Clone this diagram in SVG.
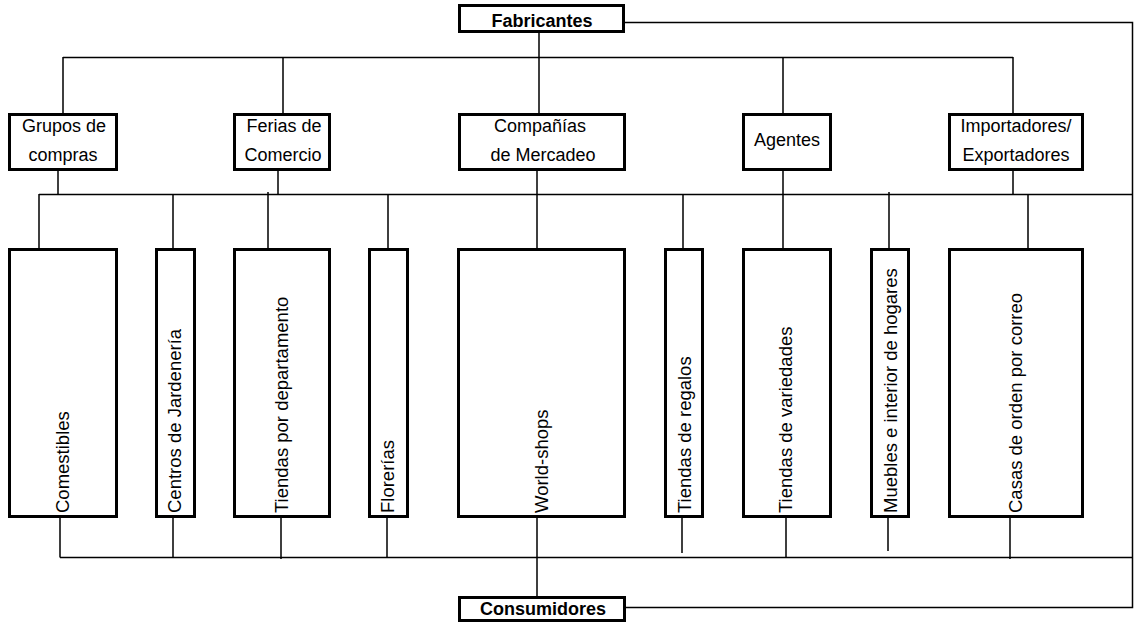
<svg xmlns="http://www.w3.org/2000/svg" width="1134" height="622" viewBox="0 0 1134 622">
<style>
.box{fill:#fff;stroke:#000;stroke-width:3}
.ln{fill:none;stroke:#000;stroke-width:1.5}
text{font-family:"Liberation Sans",Arial,sans-serif;font-size:18px;fill:#000}
.v{font-size:18.5px}
.b{font-weight:bold}
.c{text-anchor:middle}
</style>
<rect width="1134" height="622" fill="#fff"/>
<g id="connectors">
<path class="ln" d="M625 22.5H1132.5V607.5H626"/>
<path class="ln" d="M539 33V57.5M63 57.5H1013M63 57V113M283 57V113M539 57V113M783 57V113M1013 57V113"/>
<path class="ln" d="M58 170V194.5M278 170V194.5M537 170V194.5M783 170V194.5M1013 170V194.5M39 194.5H1133"/>
<path class="ln" d="M39 194V248M173 194V248M268 192V248M388 194V248M537 194V248M683 194V248M783 194V248M889 192V248M1028 194V248"/>
<path class="ln" d="M60 518V557.5M173 518V557.5M281 518V559M387 518V557.5M537 518V596M682 518V553M786 518V557.5M888 518V551M1010 518V559M60 557.5H1133"/>
</g>
<g id="fabricantes"><rect class="box" x="459.5" y="5.5" width="164" height="26"/><text class="b c" x="542" y="27">Fabricantes</text></g>
<g id="grupos"><rect class="box" x="9.5" y="114.5" width="107" height="55"/><text class="c" x="64" y="132">Grupos de</text><text class="c" x="63" y="161">compras</text></g>
<g id="ferias"><rect class="box" x="234.5" y="114.5" width="95" height="55"/><text class="c" x="284" y="132">Ferias de</text><text class="c" x="283" y="161">Comercio</text></g>
<g id="companias"><rect class="box" x="459.5" y="114.5" width="165" height="55"/><text class="c" x="540" y="132">Compañías</text><text class="c" x="543" y="161">de Mercadeo</text></g>
<g id="agentes"><rect class="box" x="743.5" y="114.5" width="87" height="55"/><text class="c" x="787" y="146">Agentes</text></g>
<g id="importadores"><rect class="box" x="949.5" y="114.5" width="133" height="55"/><text class="c" x="1016" y="132">Importadores/</text><text class="c" x="1016" y="161">Exportadores</text></g>
<g id="comestibles"><rect class="box" x="9.5" y="249.5" width="107" height="267"/><text class="v" transform="translate(69 513) rotate(-90)">Comestibles</text></g>
<g id="centros"><rect class="box" x="156.5" y="249.5" width="38" height="267"/><text class="v" transform="translate(181 513) rotate(-90)">Centros de Jardenería</text></g>
<g id="tiendas-dep"><rect class="box" x="234.5" y="249.5" width="95" height="267"/><text class="v" transform="translate(288 513) rotate(-90)">Tiendas por departamento</text></g>
<g id="florerias"><rect class="box" x="369.5" y="249.5" width="38" height="267"/><text class="v" transform="translate(394 513) rotate(-90)">Florerías</text></g>
<g id="worldshops"><rect class="box" x="458.5" y="249.5" width="166" height="267"/><text class="v" transform="translate(548 513) rotate(-90)">World-shops</text></g>
<g id="regalos"><rect class="box" x="665.5" y="249.5" width="37" height="267"/><text class="v" transform="translate(691 513) rotate(-90)">Tiendas de regalos</text></g>
<g id="variedades"><rect class="box" x="743.5" y="249.5" width="87" height="267"/><text class="v" transform="translate(792 513) rotate(-90)">Tiendas de variedades</text></g>
<g id="muebles"><rect class="box" x="871.5" y="249.5" width="37" height="267"/><text class="v" transform="translate(897 513) rotate(-90)">Muebles e interior de hogares</text></g>
<g id="casas"><rect class="box" x="949.5" y="249.5" width="133" height="267"/><text class="v" transform="translate(1022 513) rotate(-90)">Casas de orden por correo</text></g>
<g id="consumidores"><rect class="box" x="459.5" y="597.5" width="165" height="23"/><text class="b c" x="543" y="615">Consumidores</text></g>
</svg>
